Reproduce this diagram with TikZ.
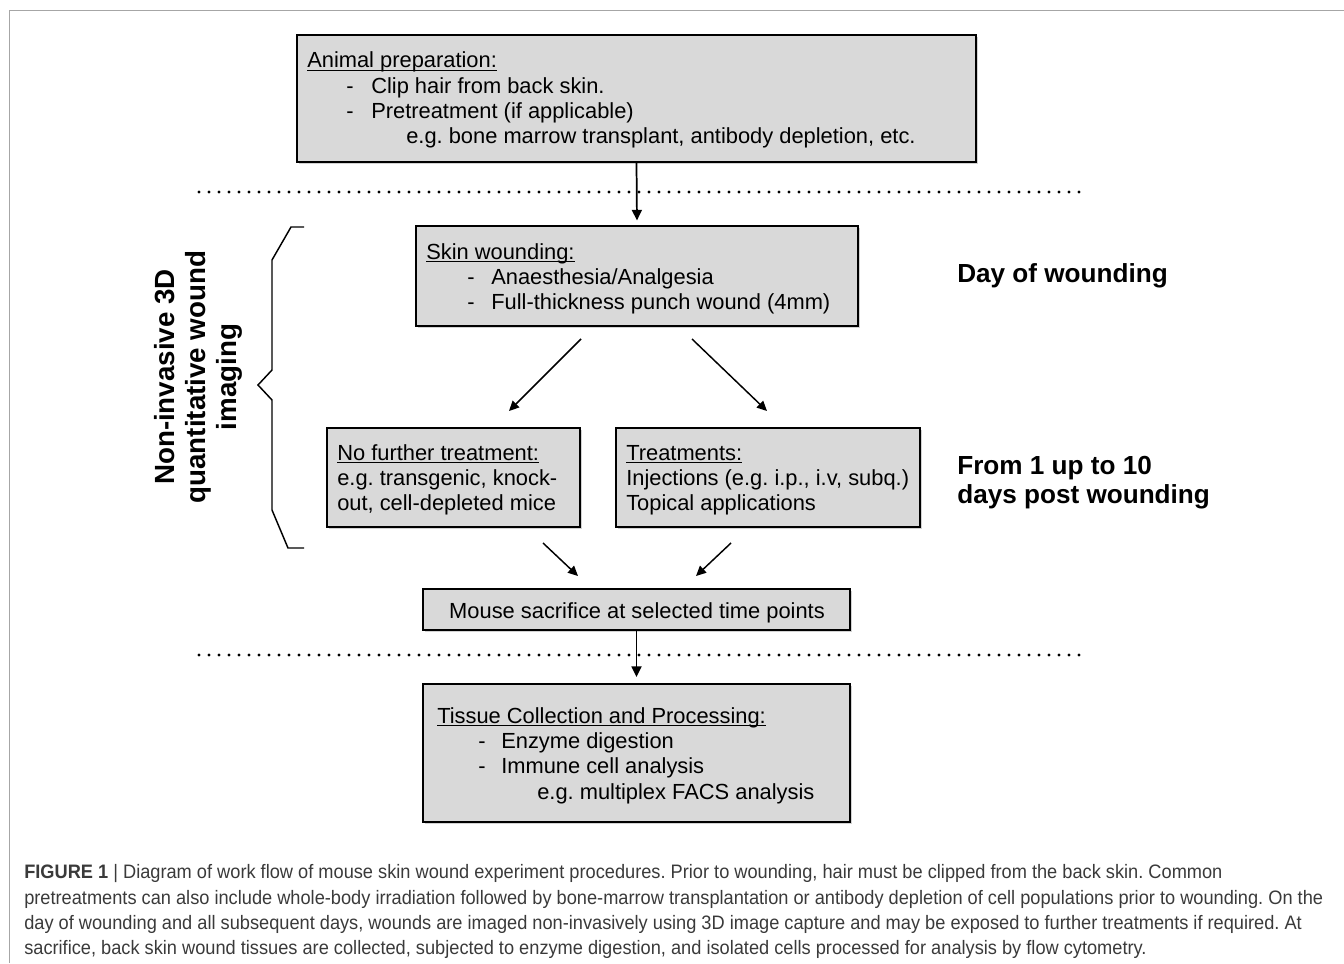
\documentclass[tikz,border=0pt]{standalone}
\usepackage{fontspec}
\setmainfont{Liberation Sans}
\usetikzlibrary{arrows.meta,shadows,fit}
\frenchspacing
\newcommand\ulx[1]{\setbox0\hbox{#1}\rlap{\rule[-2.3pt]{\wd0}{0.75pt}}\box0}
\newcommand\capfont{\fontsize{14.6}{18.75}\selectfont}
\newsavebox\capbox
\newcommand\capline[1]{\scalebox{\capsx}[1]{#1}}
\definecolor{boxfill}{HTML}{D9D9D9}
\definecolor{framegray}{HTML}{A6A6A6}
\definecolor{captext}{HTML}{3A3A3A}
\begin{document}
\sbox\capbox{\capfont pretreatments can also include whole-body irradiation followed by bone-marrow transplantation or antibody depletion of cell populations prior to wounding. On the}%
\pgfmathsetmacro\capsxtmp{974.25/\the\wd\capbox}%
\xdef\capsx{\capsxtmp}%
\begin{tikzpicture}[x=0.75pt,y=-0.75pt,
  box/.style={draw=black, line width=1.5pt, fill=boxfill, inner sep=0pt,
    drop shadow={shadow xshift=1.2pt, shadow yshift=-1.2pt, opacity=0.35}},
  txt/.style={anchor=base west, inner sep=0pt, font=\fontsize{16.4}{18.75}\selectfont},
  big/.style={anchor=base west, inner sep=0pt, font=\fontsize{19.6}{22.5}\selectfont\bfseries},
  arr/.style={line width=1.3pt, -{Triangle[length=8pt,width=7.5pt]}},
  darr/.style={line width=1.1pt, -{Triangle[length=7.5pt,width=7pt]}},
  dots/.style={line width=2.3pt, line cap=round, dash pattern=on 0pt off 7.5pt},
  captxt/.style={anchor=base west, inner sep=0pt, font=\capfont, text=captext},
]
\useasboundingbox (0,0) rectangle (1344,963);
\fill[white] (0,0) rectangle (1344,963);

% frame
\draw[framegray, line width=1.1pt] (9.5,963) -- (9.5,10.5) -- (1344,10.5);

% boxes
\node[box, fit={(297,35)(976,162)}] (prep) {};
\node[box, fit={(416,226)(858,326)}] (skin) {};
\node[box, fit={(327,428)(580,527)}] (nof) {};
\node[box, fit={(616,428)(920,527)}] (treat) {};
\node[box, fit={(423,589)(850,630)}] (sac) {};
\node[box, fit={(423,684)(850,822)}] (tis) {};

% box texts
\node[txt] (t1) at (307,68) {\ulx{Animal preparation:}};
\node[txt] (t2a) at (346,93.5) {-};
\node[txt] (t2) at (371,93.5) {Clip hair from back skin.};
\node[txt] (t3a) at (346,118.5) {-};
\node[txt] (t3) at (371,118.5) {Pretreatment (if applicable)};
\node[txt] (t4) at (406,143.3) {e.g. bone marrow transplant, antibody depletion, etc.};

\node[txt] (s1) at (426,259) {\ulx{Skin wounding:}};
\node[txt] (s2a) at (467,284) {-};
\node[txt] (s2) at (491,284) {Anaesthesia/Analgesia};
\node[txt] (s3a) at (467,309) {-};
\node[txt] (s3) at (491,309) {Full-thickness punch wound (4mm)};

\node[txt] (n1) at (337,460) {\ulx{No further treatment:}};
\node[txt] (n2) at (337,485) {e.g. transgenic, knock-};
\node[txt] (n3) at (337,510) {out, cell-depleted mice};

\node[txt] (r1) at (626,460) {\ulx{Treatments:}};
\node[txt] (r2) at (626,485) {Injections (e.g. i.p., i.v, subq.)};
\node[txt] (r3) at (626,510) {Topical applications};

\node[txt, anchor=base] (m1) at (637,618) {Mouse sacrifice at selected time points};

\node[txt] (c1) at (437,723) {\ulx{Tissue Collection and Processing:}};
\node[txt] (c2a) at (478,748) {-};
\node[txt] (c2) at (501,748) {Enzyme digestion};
\node[txt] (c3a) at (478,773) {-};
\node[txt] (c3) at (501,773) {Immune cell analysis};
\node[txt] (c4) at (537,799) {e.g. multiplex FACS analysis};

% side labels
\node[big] (d1) at (957,282) {Day of wounding};
\node[big] (d2) at (957,474) {From 1 up to 10};
\node[big] (d3) at (957,503) {days post wounding};

\node[rotate=90, align=center, inner sep=0pt,
  font=\fontsize{20.8}{23.3}\selectfont\bfseries] (lbl) at (198,377)
  {Non-invasive 3D\\quantitative wound\\imaging};

% brace
\draw[line width=1.1pt, line join=miter]
  (304,227) -- (291,227) -- (272,260) -- (272,370) -- (258,385)
  -- (272,400) -- (272,510) -- (288,548) -- (304,548);

% dotted separators
\coordinate (dl1) at (199,192);
\coordinate (dr1) at (1085,192);
\coordinate (dl2) at (199,655);
\coordinate (dr2) at (1085,655);
\draw[dots] (dl1) -- (dr1);
\draw[dots] (dl2) -- (dr2);

% arrows
\draw[arr, shorten >=3.4pt] (prep.south) -- (skin.north);
\draw[darr] ([shift={(-56,12)}]skin.south) -- ([shift={(55.5,-16)}]nof.north);
\draw[darr] ([shift={(55,12)}]skin.south) -- ([shift={(-1,-16)}]treat.north);
\draw[darr] ([shift={(89.5,15)}]nof.south) -- ([shift={(-58.5,-12)}]sac.north);
\draw[darr] ([shift={(-37,15)}]treat.south) -- ([shift={(59.5,-12)}]sac.north);
\draw[arr, shorten >=4.5pt] (sac.south) -- (tis.north);

% caption
\node[captxt] (cap1) at (24,878) {\capline{\textbf{FIGURE 1} | Diagram of work flow of mouse skin wound experiment procedures. Prior to wounding, hair must be clipped from the back skin. Common}};
\node[captxt] (cap2) at (24,904) {\capline{pretreatments can also include whole-body irradiation followed by bone-marrow transplantation or antibody depletion of cell populations prior to wounding. On the}};
\node[captxt] (cap3) at (24,929) {\capline{day of wounding and all subsequent days, wounds are imaged non-invasively using 3D image capture and may be exposed to further treatments if required. At}};
\node[captxt] (cap4) at (24,954) {\capline{sacrifice, back skin wound tissues are collected, subjected to enzyme digestion, and isolated cells processed for analysis by flow cytometry.}};
\end{tikzpicture}
\end{document}
